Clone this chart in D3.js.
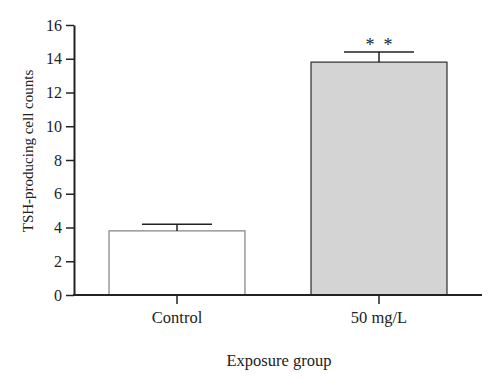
<!DOCTYPE html>
<html><head><meta charset="utf-8">
<script src="https://cdn.jsdelivr.net/npm/d3@7"></script>
<style>body{margin:0;background:#fff}svg{display:block}text{font-family:"Liberation Serif","DejaVu Serif",serif}</style>
</head><body>
<svg id="c" width="500" height="378"></svg>
<script>
const categories = ["Control", "50 mg/L"];
const means = [3.8, 13.8];
const errors = [0.4, 0.6];
const significance = ["", "*  *"];
const yTicks = [0, 2, 4, 6, 8, 10, 12, 14, 16];
const fills = ["#ffffff", "#d4d4d4"];
const strokes = ["#8a8a8a", "#3a3a3a"];

const svg = d3.select("#c");
const y = d3.scaleLinear().domain([0, 16]).range([295, 25]);
const x = d3.scaleBand().domain(categories).range([76, 480]).paddingInner(0.327).paddingOuter(0.1635);

// bars
svg.selectAll("rect.bar").data(categories).enter().append("rect")
  .attr("x", d => x(d)).attr("y", (d, i) => y(means[i]))
  .attr("width", x.bandwidth()).attr("height", (d, i) => y(0) - y(means[i]))
  .attr("fill", (d, i) => fills[i]).attr("stroke", (d, i) => strokes[i]).attr("stroke-width", 1.3);

// error bars
const capW = 70;
categories.forEach((c, i) => {
  const cx = x(c) + x.bandwidth() / 2;
  svg.append("line").attr("x1", cx).attr("x2", cx).attr("y1", y(means[i])).attr("y2", y(means[i] + errors[i]))
    .attr("stroke", "#222").attr("stroke-width", 1.5);
  svg.append("line").attr("x1", cx - capW / 2).attr("x2", cx + capW / 2).attr("y1", y(means[i] + errors[i])).attr("y2", y(means[i] + errors[i]))
    .attr("stroke", "#222").attr("stroke-width", 1.5);
  if (significance[i]) {
    svg.append("text").attr("x", cx).attr("y", y(means[i] + errors[i]) - 1)
      .attr("text-anchor", "middle").attr("font-size", 18).attr("fill", "#222")
      .style("white-space", "pre").attr("xml:space", "preserve").text(significance[i]);
  }
});

// y axis
const yAxis = d3.axisLeft(y).tickValues(yTicks).tickSize(8).tickPadding(4).tickSizeOuter(0);
const gy = svg.append("g").attr("transform", "translate(74,0)").call(yAxis);
gy.select(".domain").attr("stroke", "#222").attr("stroke-width", 2);
gy.selectAll(".tick line").attr("stroke", "#222").attr("stroke-width", 1.5);
gy.selectAll(".tick text").attr("font-size", 16).attr("fill", "#222").attr("font-family", "Liberation Serif, serif");

// x axis
const xAxis = d3.axisBottom(x).tickSize(9).tickPadding(7).tickSizeOuter(0);
const gx = svg.append("g").attr("transform", "translate(0,295)").call(xAxis);
gx.select(".domain").remove();
gx.append("line").attr("x1", 73).attr("x2", 482).attr("y1", 0).attr("y2", 0).attr("stroke", "#222").attr("stroke-width", 2);
gx.selectAll(".tick line").attr("stroke", "#222").attr("stroke-width", 1.5);
gx.selectAll(".tick text").attr("font-size", 16.5).attr("fill", "#222").attr("font-family", "Liberation Serif, serif");

// axis titles
svg.append("text").attr("transform", "translate(33,151) rotate(-90)").attr("text-anchor", "middle")
  .attr("font-size", 15).attr("fill", "#222").text("TSH-producing cell counts");
svg.append("text").attr("x", 279).attr("y", 366).attr("text-anchor", "middle")
  .attr("font-size", 16.5).attr("fill", "#222").text("Exposure group");
</script>
</body></html>
